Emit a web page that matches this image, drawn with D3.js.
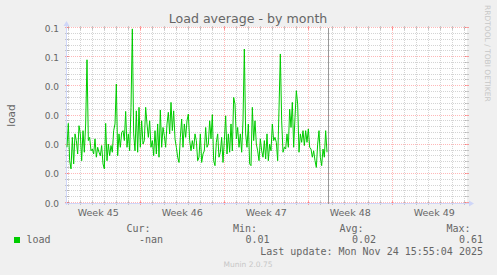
<!DOCTYPE html>
<html>
<head>
<meta charset="utf-8">
<title>Load average - by month</title>
<style>
  body { margin: 0; background: #f0f0f0; }
  svg { display: block; font-family: "DejaVu Sans", sans-serif; }
  .grid-minor { stroke: #8f8f8f; stroke-opacity: 0.38; stroke-dasharray: 1,1; shape-rendering: crispEdges; }
  .grid-major { stroke: #ff0000; stroke-opacity: 0.28; stroke-dasharray: 1,1; shape-rendering: crispEdges; }
  .tick-minor { stroke: #8f8f8f; stroke-opacity: 0.45; shape-rendering: crispEdges; }
  .tick-major { stroke: #ff0000; stroke-opacity: 0.35; shape-rendering: crispEdges; }
  .axis { stroke: #cfd6f8; shape-rendering: crispEdges; }
  .label { fill: #666666; font-size: 9px; }
  .legend { fill: #666666; font-family: "DejaVu Sans Mono", monospace; font-size: 10px; }
  .mark { fill: #c7c7c7; }
</style>
</head>
<body>
<svg width="497" height="275"></svg>

<script src="https://d3js.org/d3.v7.min.js"></script>
<script>

  // data, one point every 160 minutes
  var startTime = new Date(Date.UTC(2025, 9, 27, 21, 30));
  var endTime = new Date(Date.UTC(2025, 10, 30, 5, 30));
  var stepMinutes = 160;
  var nowTime = new Date(Date.UTC(2025, 10, 18, 15, 30));

  var loadValues = [
    0.0191, 0.0273, 0.0145, 0.0117, 0.0225, 0.0134, 0.0237, 0.0214, 0.0168, 0.0265,
    0.0237, 0.0145, 0.0248, 0.0174, 0.0271, 0.0491, 0.0214, 0.0225, 0.0179, 0.0185,
    0.0168, 0.0220, 0.0157, 0.0191, 0.0174, 0.0162, 0.0197, 0.0134, 0.0117, 0.0273,
    0.0145, 0.0202, 0.0162, 0.0197, 0.0174, 0.0248, 0.0271, 0.0408, 0.0162, 0.0237,
    0.0191, 0.0242, 0.0248, 0.0214, 0.0314, 0.0191, 0.0237, 0.0179, 0.0328,
    0.0597, 0.0237, 0.0179, 0.0316, 0.0174, 0.0328, 0.0191, 0.0282, 0.0202, 0.0214,
    0.0328, 0.0271, 0.0225, 0.0282, 0.0191, 0.0214, 0.0162, 0.0248, 0.0168, 0.0271,
    0.0157, 0.0319, 0.0191, 0.0259, 0.0231, 0.0191, 0.0271, 0.0311, 0.0237, 0.0345,
    0.0248, 0.0316, 0.0220, 0.0191, 0.0157, 0.0139, 0.0225, 0.0288, 0.0191, 0.0271,
    0.0225, 0.0282, 0.0305, 0.0214, 0.0179, 0.0214, 0.0185, 0.0237, 0.0214, 0.0145,
    0.0157, 0.0237, 0.0139, 0.0168, 0.0179, 0.0259, 0.0191, 0.0202, 0.0282, 0.0220,
    0.0303, 0.0145, 0.0128, 0.0208, 0.0237, 0.0157, 0.0174, 0.0225, 0.0139, 0.0214,
    0.0299, 0.0168, 0.0237, 0.0174, 0.0271, 0.0179, 0.0362, 0.0339, 0.0220, 0.0259,
    0.0191, 0.0237, 0.0174, 0.0282, 0.0528, 0.0237, 0.0191, 0.0271, 0.0134, 0.0128,
    0.0328, 0.0214, 0.0282, 0.0202, 0.0179, 0.0145, 0.0220, 0.0179,
    0.0157, 0.0214, 0.0151, 0.0237, 0.0145, 0.0202, 0.0179, 0.0271, 0.0214, 0.0225,
    0.0208, 0.0145, 0.0322, 0.0511, 0.0282, 0.0174, 0.0191, 0.0185, 0.0237, 0.0191,
    0.0322, 0.0259, 0.0345, 0.0191, 0.0294, 0.0385, 0.0339, 0.0174, 0.0237, 0.0208,
    0.0248, 0.0197, 0.0248, 0.0208, 0.0254, 0.0191, 0.0185, 0.0157, 0.0179, 0.0145,
    0.0122, 0.0202, 0.0248, 0.0157, 0.0128, 0.0185, 0.0157, 0.0248, 0.0174
  ];

  var weekStarts = ["2025-10-27", "2025-11-03", "2025-11-10", "2025-11-17", "2025-11-24"];
  var weekLabels = ["Week 45", "Week 46", "Week 47", "Week 48", "Week 49"];

  var yTickValues = [0, 0.01, 0.02, 0.03, 0.04, 0.05, 0.06];
  var yTickLabels = ["0.0", "0.0", "0.0", "0.0", "0.0", "0.1", "0.1"];

  var legendHeads = ["Cur:", "Min:", "Avg:", "Max:"];
  var legendValues = ["-nan", "0.01", "0.02", "0.61"];

  var svg = d3.select("svg");
  var L = 67, R = 467, T = 28, B = 203;

  var x = d3.scaleUtc().domain([startTime, endTime]).range([L, R]);
  var y = d3.scaleLinear().domain([0, 0.06]).range([B, T]);

  function sx(t) { return Math.floor(x(t)) + 0.5; }
  function sy(v) { return Math.round(y(v)) - 0.5; }

  var points = loadValues.map(function(v, i) {
    return { t: new Date(startTime.getTime() + i * stepMinutes * 60000), v: v };
  });

  // canvas
  svg.append("rect").attr("x", L).attr("y", T - 1).attr("width", R - L).attr("height", B - T + 1)
    .attr("fill", "#ffffff");

  // horizontal grid
  var minorY = d3.range(0, 31).filter(function(i) { return i % 5 != 0; })
    .map(function(i) { return i * 0.002; });

  var g = svg.append("g");
  g.selectAll(".hmin").data(minorY).enter().append("line")
    .attr("class", "grid-minor")
    .attr("x1", L).attr("x2", R)
    .attr("y1", sy).attr("y2", sy);
  g.selectAll(".hminl").data(minorY).enter().append("path")
    .attr("class", "tick-minor")
    .attr("d", function(v) { return "M" + (L - 2) + "," + sy(v) + "h4M" + (R - 2) + "," + sy(v) + "h4"; });

  g.selectAll(".hmaj").data(yTickValues).enter().append("line")
    .attr("class", "grid-major")
    .attr("x1", L).attr("x2", R)
    .attr("y1", sy).attr("y2", sy);
  g.selectAll(".hmajl").data(yTickValues).enter().append("path")
    .attr("class", "tick-major")
    .attr("d", function(v) { return "M" + (L - 2) + "," + sy(v) + "h4M" + (R - 2) + "," + sy(v) + "h4"; });

  // vertical grid
  var days = d3.utcDay.range(startTime, endTime).filter(function(d) { return d.getUTCDay() != 1; });
  var mondays = d3.utcMonday.range(startTime, endTime);

  g.selectAll(".vmin").data(days).enter().append("line")
    .attr("class", "grid-minor")
    .attr("x1", sx).attr("x2", sx)
    .attr("y1", T).attr("y2", B);
  g.selectAll(".vminl").data(days).enter().append("path")
    .attr("class", "tick-minor")
    .attr("d", function(d) { return "M" + sx(d) + "," + (T - 2) + "v4M" + sx(d) + "," + (B - 2) + "v4"; });

  g.selectAll(".vmaj").data(mondays).enter().append("line")
    .attr("class", "grid-major")
    .attr("x1", sx).attr("x2", sx)
    .attr("y1", T).attr("y2", B);
  g.selectAll(".vmajl").data(mondays).enter().append("path")
    .attr("class", "tick-major")
    .attr("d", function(d) { return "M" + sx(d) + "," + (T - 2) + "v4M" + sx(d) + "," + (B - 2) + "v4"; });

  // axes with arrows
  svg.append("line").attr("class", "axis")
    .attr("x1", L - 0.5).attr("x2", L - 0.5).attr("y1", B + 2).attr("y2", T - 4);
  svg.append("path").attr("fill", "#cfd6f8")
    .attr("d", "M" + (L - 3.5) + "," + (T - 2) + "L" + (L - 0.5) + "," + (T - 7) + "L" + (L + 2.5) + "," + (T - 2) + "Z");
  svg.append("line").attr("class", "axis")
    .attr("x1", L - 2).attr("x2", R + 3).attr("y1", B + 0.5).attr("y2", B + 0.5);
  svg.append("path").attr("fill", "#cfd6f8")
    .attr("d", "M" + (R + 2) + "," + (B - 2.5) + "L" + (R + 7) + "," + (B + 0.5) + "L" + (R + 2) + "," + (B + 3.5) + "Z");

  // load line
  var line = d3.line()
    .x(function(d) { return x(d.t); })
    .y(function(d) { return y(d.v); });

  svg.append("path")
    .datum(points)
    .attr("fill", "none")
    .attr("stroke", "#00cc00")
    .attr("stroke-width", 1)
    .attr("stroke-linejoin", "round")
    .attr("d", line);

  // "now" rule
  svg.append("line")
    .attr("x1", sx(nowTime)).attr("x2", sx(nowTime))
    .attr("y1", T).attr("y2", B + 1)
    .attr("stroke", "#999999")
    .attr("shape-rendering", "crispEdges");

  // y labels
  svg.selectAll(".ylab").data(yTickValues).enter().append("text")
    .attr("class", "label")
    .attr("x", L - 8)
    .attr("y", function(v) { return y(v) + 3.5; })
    .attr("text-anchor", "end")
    .text(function(v, i) { return yTickLabels[i]; });

  // x labels, centred on each week
  svg.selectAll(".xlab").data(weekStarts).enter().append("text")
    .attr("class", "label")
    .style("font-size", "9.5px")
    .attr("x", function(d) { return x(d3.utcHour.offset(new Date(d + "T00:00:00Z"), 84)); })
    .attr("y", 216)
    .attr("text-anchor", "middle")
    .text(function(d, i) { return weekLabels[i]; });

  // title and side texts
  svg.append("text")
    .attr("x", 248).attr("y", 23)
    .attr("text-anchor", "middle")
    .attr("fill", "#666666")
    .style("font-size", "12.6px")
    .text("Load average - by month");

  svg.append("text")
    .attr("transform", "translate(15," + ((T + B) / 2) + ") rotate(-90)")
    .attr("text-anchor", "middle")
    .attr("fill", "#666666")
    .style("font-size", "10.5px")
    .text("load");

  svg.append("text")
    .attr("class", "mark")
    .attr("transform", "translate(485,5) rotate(90)")
    .style("font-size", "7.5px")
    .text("RRDTOOL / TOBI OETIKER");

  // legend
  var headX = [150.5, 257, 363.5, 470.5];
  var valX = [163, 269.5, 376, 483];

  svg.selectAll(".lhead").data(legendHeads).enter().append("text")
    .attr("class", "legend")
    .attr("x", function(d, i) { return headX[i]; })
    .attr("y", 231.5)
    .attr("text-anchor", "end")
    .text(function(d) { return d; });

  svg.append("rect")
    .attr("x", 14).attr("y", 237).attr("width", 6).attr("height", 6)
    .attr("fill", "#00cc00");
  svg.append("text")
    .attr("class", "legend")
    .attr("x", 26.5).attr("y", 243)
    .text("load");

  svg.selectAll(".lval").data(legendValues).enter().append("text")
    .attr("class", "legend")
    .attr("x", function(d, i) { return valX[i]; })
    .attr("y", 243)
    .attr("text-anchor", "end")
    .text(function(d) { return d; });

  svg.append("text")
    .attr("class", "legend")
    .attr("x", 483).attr("y", 254.5)
    .attr("text-anchor", "end")
    .text("Last update: Mon Nov 24 15:55:04 2025");

  svg.append("text")
    .attr("class", "mark")
    .attr("x", 248).attr("y", 266.5)
    .attr("text-anchor", "middle")
    .style("font-size", "7.5px")
    .text("Munin 2.0.75");

</script>
</body>
</html>
